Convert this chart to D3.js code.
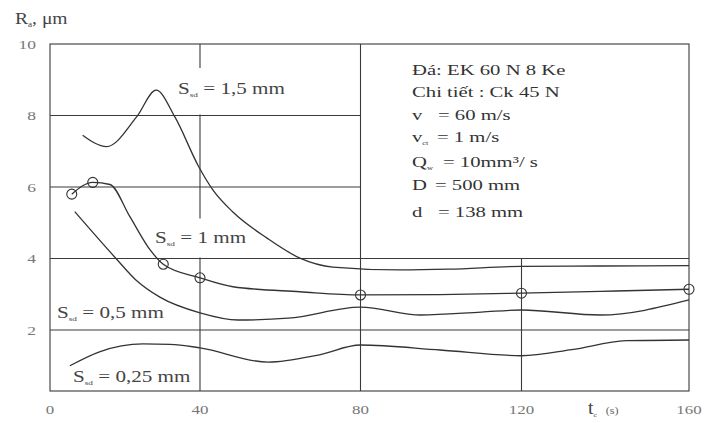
<!DOCTYPE html>
<html>
<head>
<meta charset="utf-8">
<script src="https://cdn.jsdelivr.net/npm/d3@7"></script>
<style>
  body { margin: 0; background: #fff; }
  svg { display: block; font-family: "Liberation Serif", "DejaVu Serif", serif; }
  .grid { stroke: #3a3a3a; stroke-width: 1.1; fill: none; }
  .curve { stroke: #333; stroke-width: 1.3; fill: none; }
  .mark { stroke: #333; stroke-width: 1.1; fill: none; }
</style>
</head>
<body>
<div id="chart"></div>
<script>
(function () {
  'use strict';

  // tick values
  const xTicks = [0, 40, 80, 120, 160];
  const yTicks = [2, 4, 6, 8, 10];

  // S_sd = 1,5 mm  [t, Ra]
  const s15 = [[8.7, 7.45], [15.1, 7.13], [23.1, 7.96], [28.3, 8.71], [33.3, 7.96],
    [39.7, 6.56], [43.2, 5.92], [48.2, 5.3], [56.7, 4.57], [64.9, 4.01], [73.1, 3.76],
    [89.7, 3.68], [102, 3.7], [120, 3.78], [138.7, 3.79], [160, 3.8]];

  // S_sd = 1 mm
  const s10 = [[5.8, 5.8], [11.4, 6.13], [16, 6.07], [21.3, 5.17], [26.7, 4.24],
    [30.2, 3.84], [40, 3.46], [48.2, 3.21], [64.9, 3.07], [80, 2.98], [99.7, 2.99],
    [120, 3.03], [138.8, 3.08], [160, 3.14]];
  // measured points (circles) on the S_sd = 1 mm curve
  const s10Marks = [[5.8, 5.8], [11.4, 6.13], [30.2, 3.84], [40, 3.46], [80, 2.98], [120, 3.03], [160, 3.14]];

  // S_sd = 0,5 mm
  const s05 = [[6.6, 5.31], [17.6, 4.0], [22.9, 3.4], [29.3, 2.92], [40, 2.48], [49.5, 2.28],
    [62, 2.33], [80, 2.64], [95, 2.42], [110, 2.5], [120, 2.56], [138.8, 2.42], [160, 2.84]];

  // S_sd = 0,25 mm
  const s025 = [[5.3, 1.0], [13.2, 1.39], [24.8, 1.61], [32, 1.6], [40, 1.5], [57, 1.1],
    [69.5, 1.3], [80, 1.58], [99.8, 1.44], [120, 1.28], [132, 1.45], [145, 1.7], [160, 1.72]];

  // legend rows: name, subscript, value
  const legendLines = [
    ['Đá: EK 60 N 8 Ke'],
    ['Chi tiết : Ck 45 N'],
    ['v', '', '= 60 m/s'],
    ['v', 'ct', '= 1 m/s'],
    ['Q', 'w', '= 10mm³/ s'],
    ['D', '', '= 500 mm'],
    ['d', '', '= 138 mm']
  ];

  const width = 704, height = 423;

  const svg = d3.select('#chart')
    .append('svg')
    .attr('width', width)
    .attr('height', height);

  // hand drawn axis is not quite even, so use a piecewise scale
  const x = d3.scaleLinear()
    .domain(xTicks)
    .range([50, 200, 360.5, 521.5, 689]);

  const y = d3.scaleLinear()
    .domain([0, 10])
    .range([401.5, 44]);

  const left = x(0), right = x(160), top = y(10), bottom = 391;

  // the scanned lettering is wide, stretch text horizontally
  const stretch = (px, py, sx) => `translate(${px},${py}) scale(${sx},1)`;

  const grid = svg.append('g');

  // frame
  grid.append('rect')
    .attr('class', 'grid')
    .attr('x', left).attr('y', top)
    .attr('width', right - left).attr('height', bottom - top);

  // horizontal lines, the ones above 4 stop at the legend box
  grid.selectAll('.h')
    .data([2, 4, 6, 8])
    .join('line')
    .attr('class', 'grid')
    .attr('x1', left)
    .attr('x2', d => d > 4 ? x(80) : right)
    .attr('y1', d => y(d)).attr('y2', d => y(d));

  // vertical lines
  grid.selectAll('.v')
    .data([40, 80, 120])
    .join('line')
    .attr('class', 'grid')
    .attr('x1', d => x(d)).attr('x2', d => x(d))
    .attr('y1', d => d === 120 ? y(4) : top)
    .attr('y2', bottom);

  // gaps in the t = 40 line where the curve labels sit
  grid.selectAll('.gap')
    .data([[y(10) + 24, y(8) - 1], [y(4) - 40, y(4) - 1]])
    .join('rect')
    .attr('x', x(40) - 3).attr('width', 6)
    .attr('y', d => d[0]).attr('height', d => d[1] - d[0])
    .attr('fill', '#fff');

  // tick labels
  svg.append('g').selectAll('text')
    .data(yTicks)
    .join('text')
    .attr('transform', d => stretch(36, y(d) + 4.5, 1.4))
    .attr('text-anchor', 'end')
    .attr('font-size', 12.5)
    .attr('fill', '#777')
    .text(d => d);

  svg.append('g').selectAll('text')
    .data(xTicks)
    .join('text')
    .attr('transform', d => stretch(x(d), 414, 1.3))
    .attr('text-anchor', 'middle')
    .attr('font-size', 13)
    .attr('fill', '#777')
    .text(d => d);

  // axis titles
  const yTitle = svg.append('text')
    .attr('transform', stretch(15, 24, 1.15))
    .attr('font-size', 17)
    .attr('fill', '#444');
  yTitle.append('tspan').text('R');
  yTitle.append('tspan').attr('font-size', 8).attr('dy', 3).text('a');
  yTitle.append('tspan').attr('dy', -3).text(', μm');

  const xTitle = svg.append('text')
    .attr('transform', stretch(588, 414, 1.1))
    .attr('font-size', 18)
    .attr('fill', '#444');
  xTitle.append('tspan').text('t');
  xTitle.append('tspan').attr('font-size', 7).attr('dy', 3).text('c');
  xTitle.append('tspan').attr('font-size', 11).attr('dy', -3).attr('dx', 8).attr('fill', '#666').text('(s)');

  // curves
  const line = d3.line()
    .x(d => x(d[0]))
    .y(d => y(d[1]))
    .curve(d3.curveMonotoneX);

  const curves = svg.append('g');
  curves.selectAll('path')
    .data([s15, s10, s05, s025])
    .join('path')
    .attr('class', 'curve')
    .attr('d', line);

  curves.selectAll('circle')
    .data(s10Marks)
    .join('circle')
    .attr('class', 'mark')
    .attr('cx', d => x(d[0]))
    .attr('cy', d => y(d[1]))
    .attr('r', 5);

  // curve labels
  function curveLabel(px, py, value, sx) {
    const t = svg.append('text')
      .attr('transform', stretch(px, py, sx))
      .attr('font-size', 16)
      .attr('fill', '#444');
    t.append('tspan').text('S');
    t.append('tspan').attr('font-size', 7).attr('dy', 3).text('sd');
    t.append('tspan').attr('dy', -3).text(' = ' + value + ' mm');
  }
  curveLabel(178, 94, '1,5', 1.32);
  curveLabel(155, 243, '1', 1.32);
  curveLabel(57, 318, '0,5', 1.32);
  curveLabel(73, 382, '0,25', 1.32);

  // legend block
  const legend = svg.append('g')
    .attr('font-size', 15)
    .attr('fill', '#333');
  const rowY = [75, 97, 120, 142, 167, 190, 217];
  const eqX = [0, 0, 438, 437, 443, 435, 438];
  legendLines.forEach((row, i) => {
    const t = legend.append('text').attr('transform', stretch(412, rowY[i], 1.38));
    if (row.length === 1) {
      t.text(row[0]);
      return;
    }
    t.append('tspan').text(row[0]);
    if (row[1]) t.append('tspan').attr('font-size', 6).attr('dy', 3).text(row[1]);
    legend.append('text')
      .attr('transform', stretch(eqX[i], rowY[i], 1.38))
      .text(row[2]);
  });
})();
</script>
</body>
</html>
